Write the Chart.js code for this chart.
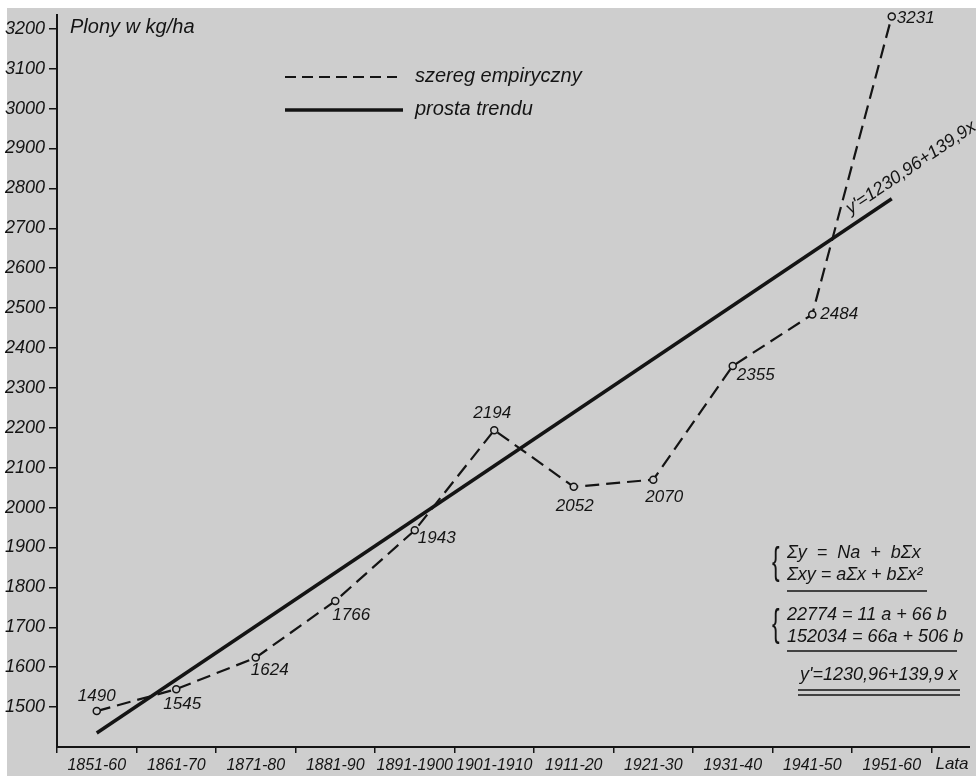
<!DOCTYPE html>
<html>
<head>
<meta charset="utf-8">
<script src="https://cdn.jsdelivr.net/npm/chart.js@4.4.1/dist/chart.umd.min.js"></script>
<style>
    html, body { margin: 0; padding: 0; background: #fff; overflow: hidden; }
    #wrap { width: 976px; height: 776px; }
</style>
</head>
<body>
<div id="wrap"><canvas id="line-chartcanvas"></canvas></div>
<script>
var categories = ["1851-60", "1861-70", "1871-80", "1881-90", "1891-1900", "1901-1910",
    "1911-20", "1921-30", "1931-40", "1941-50", "1951-60"];
var empirical = [1490, 1545, 1624, 1766, 1943, 2194, 2052, 2070, 2355, 2484, 3231];
// trend line as drawn on the sheet (only its two ends are read)
var trend = [1435, null, null, null, null, null, null, null, null, null, 2774];
var yTicks = [1500, 1600, 1700, 1800, 1900, 2000, 2100, 2200, 2300, 2400, 2500,
    2600, 2700, 2800, 2900, 3000, 3100, 3200];
var seriesNames = ["szereg empiryczny", "prosta trendu"];
var yTitle = "Plony w kg/ha";
var xTitle = "Lata";
var trendFormula = "y'=1230,96+139,9x";
var systemA = ["\u03A3y  =  Na  +  b\u03A3x", "\u03A3xy = a\u03A3x + b\u03A3x\u00B2"];
var systemB = ["22774 = 11 a + 66 b", "152034 = 66a + 506 b"];
var result = "y'=1230,96+139,9 x";

// where each value label sits relative to its point
var labelOffsets = [[0, -15], [6, 15], [14, 13], [16, 14], [22, 8], [-2, -17],
    [1, 19], [11, 18], [23, 9], [27, 0], [24, 2]];

var paper = "#cecece";
var ink = "#141414";
var narrow = "'Liberation Sans Narrow', 'Liberation Sans', sans-serif";
var sans = "'Liberation Sans', Arial, sans-serif";

var extras = {
    id: "extras",
    beforeDraw: function (chart) {
        var ctx = chart.ctx;
        ctx.save();
        ctx.fillStyle = "#fff";
        ctx.fillRect(0, 0, chart.width, chart.height);
        ctx.fillStyle = paper;
        ctx.fillRect(7, 8, chart.width - 7, chart.height - 8);
        ctx.restore();
    },
    afterDraw: function (chart) {
        var ctx = chart.ctx;
        var area = chart.chartArea;
        ctx.save();
        ctx.fillStyle = ink;
        ctx.strokeStyle = ink;

        // x axis runs on past the last tick
        ctx.lineWidth = 2;
        ctx.beginPath();
        ctx.moveTo(area.right, area.bottom);
        ctx.lineTo(970, area.bottom);
        ctx.stroke();

        ctx.font = "italic 17px " + narrow;
        ctx.textAlign = "center";
        ctx.textBaseline = "top";
        ctx.fillText(xTitle, 952, area.bottom + 9);

        ctx.font = "italic 20px " + sans;
        ctx.textAlign = "left";
        ctx.textBaseline = "middle";
        ctx.fillText(yTitle, 70, 27);

        // value labels
        var meta = chart.getDatasetMeta(0);
        ctx.font = "italic 17px " + sans;
        ctx.textAlign = "center";
        for (var i = 0; i < meta.data.length; i++) {
            var pt = meta.data[i];
            ctx.fillText(String(empirical[i]), pt.x + labelOffsets[i][0], pt.y + labelOffsets[i][1]);
        }

        // legend
        ctx.lineWidth = 2.2;
        ctx.setLineDash([11, 6]);
        ctx.beginPath();
        ctx.moveTo(285, 77);
        ctx.lineTo(397, 77);
        ctx.stroke();
        ctx.setLineDash([]);
        ctx.lineWidth = 3.5;
        ctx.beginPath();
        ctx.moveTo(285, 110);
        ctx.lineTo(403, 110);
        ctx.stroke();
        ctx.font = "italic 20px " + sans;
        ctx.textAlign = "left";
        ctx.fillText(seriesNames[0], 415, 76);
        ctx.fillText(seriesNames[1], 415, 109);

        // formula written along the trend line
        var tm = chart.getDatasetMeta(1);
        var a = tm.data[0], b = tm.data[tm.data.length - 1];
        ctx.save();
        ctx.translate(b.x, b.y);
        ctx.rotate(Math.atan2(b.y - a.y, b.x - a.x));
        ctx.font = "italic 18px " + narrow;
        ctx.textBaseline = "alphabetic";
        ctx.fillText(trendFormula, -43, -10);
        ctx.restore();

        // normal equations
        ctx.font = "italic 18px " + sans;
        ctx.textBaseline = "middle";
        ctx.fillText(systemA[0], 787, 553);
        ctx.fillText(systemA[1], 787, 575);
        ctx.fillText(systemB[0], 787, 615);
        ctx.fillText(systemB[1], 787, 637);
        ctx.fillText(result, 800, 675);

        ctx.font = "38px " + narrow;
        ctx.save();
        ctx.scale(0.6, 1);
        ctx.fillText("{", 772 / 0.6, 564);
        ctx.fillText("{", 772 / 0.6, 626);
        ctx.restore();

        ctx.lineWidth = 1.5;
        ctx.beginPath();
        ctx.moveTo(787, 591); ctx.lineTo(927, 591);
        ctx.moveTo(787, 651); ctx.lineTo(957, 651);
        ctx.moveTo(798, 690); ctx.lineTo(960, 690);
        ctx.moveTo(798, 695); ctx.lineTo(960, 695);
        ctx.stroke();

        ctx.restore();
    }
};

var ctx = document.getElementById("line-chartcanvas");

var chart = new Chart(ctx, {
    type: "line",
    data: {
        labels: categories,
        datasets: [
            {
                label: seriesNames[0],
                data: empirical,
                borderColor: ink,
                borderWidth: 2.2,
                borderDash: [14, 7],
                fill: false,
                tension: 0,
                pointRadius: 3.5,
                pointBorderWidth: 1.5,
                pointBorderColor: ink,
                pointBackgroundColor: paper,
                clip: false
            },
            {
                label: seriesNames[1],
                data: trend,
                borderColor: ink,
                borderWidth: 3.5,
                fill: false,
                tension: 0,
                spanGaps: true,
                pointRadius: 0
            }
        ]
    },
    options: {
        responsive: true,
        maintainAspectRatio: false,
        animation: false,
        layout: { padding: { top: 11, right: 44.5, left: 0, bottom: 0 } },
        plugins: {
            legend: { display: false },
            tooltip: { enabled: false }
        },
        scales: {
            x: {
                type: "category",
                offset: true,
                grid: { offset: true, drawOnChartArea: false, drawTicks: true, tickLength: 6, color: ink, lineWidth: 1.5 },
                border: { display: true, color: ink, width: 2 },
                ticks: { color: ink, padding: 3, maxRotation: 0, autoSkip: false,
                    font: { family: narrow, size: 16, style: "italic" } },
                afterFit: function (s) { s.height = 29; }
            },
            y: {
                min: 1400,
                max: 3235,
                grid: { drawOnChartArea: false, drawTicks: true, tickLength: 8, color: ink, lineWidth: 1.5 },
                border: { display: true, color: ink, width: 2 },
                ticks: { color: ink, padding: 4,
                    font: { family: narrow, size: 18, style: "italic" },
                    callback: function (v) { return String(v); } },
                afterBuildTicks: function (s) {
                    s.ticks = yTicks.map(function (v) { return { value: v }; });
                },
                afterFit: function (s) { s.width = 57; }
            }
        }
    },
    plugins: [extras]
});
</script>
</body>
</html>
